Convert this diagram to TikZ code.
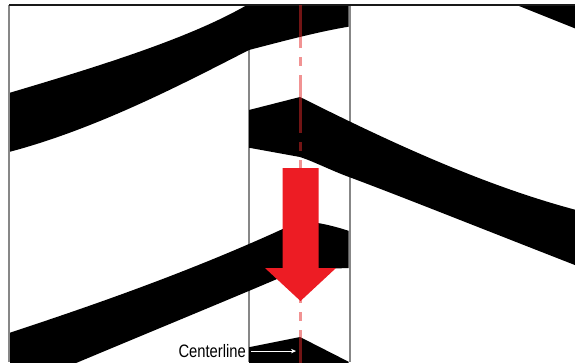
\documentclass[tikz,border=0pt]{standalone}
\usepackage{fontspec}
\setmainfont{Liberation Sans}
\usetikzlibrary{arrows.meta}
\definecolor{arrowred}{RGB}{237,28,36}
\definecolor{clred}{RGB}{228,40,40}
\definecolor{stripgray}{RGB}{135,135,135}
\tikzset{
  band/.style={fill=black},
  frameline/.style={draw=stripgray, line width=2pt},
  topline/.style={draw=black!90, line width=1.2pt},
  centerlinestyle/.style={draw=clred, draw opacity=0.5, line width=3pt, dash pattern=on 58pt off 9pt on 9pt off 9pt},
  bigarrow/.style={fill=arrowred},
  pointer/.style={draw=white, line width=1pt, -{Stealth[length=5pt,width=4.5pt]}},
  labeltext/.style={inner sep=0pt, font=\fontsize{18}{18}\selectfont, xscale=0.82, anchor=base east}
}
\begin{document}
\begin{tikzpicture}[x=1pt,y=-1pt]
\useasboundingbox (0,0) rectangle (575,362);
\fill[white] (0,0) rectangle (575,362);
% frame and strip lines
\draw[frameline] (9,5) -- (9,362);
\draw[frameline] (249,5) -- (249,362);
\draw[frameline] (349.5,5) -- (349.5,362);
% left region band (top-left)
\begin{scope}
  \clip (10,5.6) rectangle (249,362);
  \fill[band] (0,96) -- (9,93) .. controls (100,66) and (190,38) .. (247,5)
    -- (252,0) -- (262,0) -- (262,45) -- (249,50)
    .. controls (190,80) and (100,128) .. (9,152) -- (0,155) -- cycle;
\end{scope}
% lower band (left + strip)
\begin{scope}
  \clip (10,5.6) rectangle (348.5,362);
  \fill[band] (0,336) -- (9,333) .. controls (100,303) and (200,268) .. (300,221)
    .. controls (318,222) and (335,226) .. (355,233)
    -- (355,268) -- (300,269)
    .. controls (260,287) and (130,340) .. (0,395) -- cycle;
\end{scope}
% strip bands
\begin{scope}
  \clip (249,5.6) rectangle (348.5,362);
  \fill[band] (245,51) .. controls (280,42) and (320,31) .. (353,26) -- (353,0) -- (245,0) -- cycle;
  \fill[band] (245,348) -- (300,337) -- (353,364) -- (353,370) -- (245,370) -- cycle;
\end{scope}
% middle band (strip + right)
\begin{scope}
  \clip (249,5.6) rectangle (575,362);
  \fill[band] (245,111) -- (300,97)
    .. controls (380,137) and (480,185) .. (580,211)
    -- (580,267) .. controls (480,228) and (400,196) .. (349,177)
    .. controls (330,170) and (315,162) .. (300,157) -- (245,147) -- cycle;
  \fill[band] (504,0) -- (580,0) -- (580,30.4) -- cycle;
\end{scope}
% top frame line
\draw[topline] (9,5) -- (575,5);
% centerline
\begin{scope}
  \clip (0,5.8) rectangle (575,362);
  \draw[centerlinestyle] (300,-10) -- (300,370);
\end{scope}
% red arrow
\fill[bigarrow] (282.5,168) -- (318.5,168) -- (318.5,268) -- (336,268) -- (300.5,301) -- (265,268) -- (282.5,268) -- cycle;
% label
\node[labeltext] (lbl) at (246,357.5) {Centerline};
\coordinate (cltip) at (296,351);
\draw[pointer] ([xshift=5pt]lbl.east) -- (cltip |- lbl.east);
\end{tikzpicture}
\end{document}
